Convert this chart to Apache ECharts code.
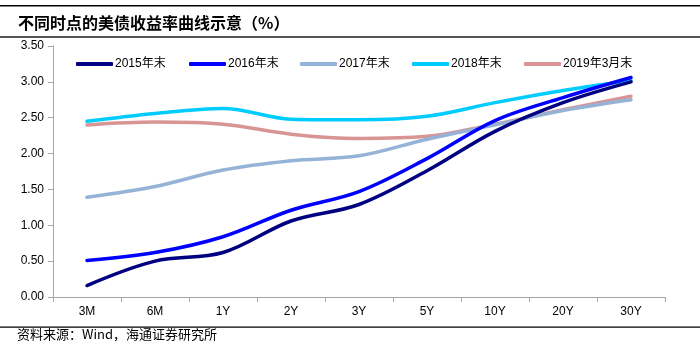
<!DOCTYPE html>
<html><head><meta charset="utf-8">
<script src="https://cdn.jsdelivr.net/npm/echarts@6/dist/echarts.min.js"></script>
<style>html,body{margin:0;padding:0;background:#fff}#c{width:700px;height:352px}</style>
</head><body><div id="c"></div>
<script>
const categories = ['3M','6M','1Y','2Y','3Y','5Y','10Y','20Y','30Y'];
const seriesNames = ['2015年末','2016年末','2017年末','2018年末','2019年3月末'];
const y2015 = [0.16, 0.50, 0.62, 1.06, 1.29, 1.76, 2.31, 2.71, 3.00];
const y2016 = [0.51, 0.62, 0.84, 1.21, 1.47, 1.93, 2.46, 2.78, 3.06];
const y2017 = [1.39, 1.54, 1.77, 1.90, 1.97, 2.20, 2.40, 2.60, 2.75];
const y2018 = [2.45, 2.56, 2.63, 2.48, 2.47, 2.52, 2.71, 2.88, 3.02];
const y2019 = [2.40, 2.44, 2.41, 2.27, 2.21, 2.24, 2.41, 2.61, 2.80];
const yTicks = [0, 0.5, 1, 1.5, 2, 2.5, 3, 3.5];
const colors = ['#000080','#0000FF','#95B3D7','#00CCFF','#D99594'];
const data = [y2015, y2016, y2017, y2018, y2019];
const legendLefts = [76, 189, 300, 412, 524];

const chart = echarts.init(document.getElementById('c'));
chart.setOption({
  animation: false,
  textStyle: {fontFamily: 'Liberation Sans, Arial, sans-serif'},
  graphic: [
    {type:'rect', shape:{x:0,y:5,width:700,height:1.5}, style:{fill:'#000'}},
    {type:'text', left:18, top:15, style:{text:'不同时点的美债收益率曲线示意（%）', font:'bold 16px "Noto Sans CJK SC"', fill:'#000'}},
    {type:'rect', shape:{x:0,y:36,width:700,height:2}, style:{fill:'#555'}},
    {type:'rect', shape:{x:0,y:326.5,width:700,height:1.2}, style:{fill:'#000'}},
    {type:'text', left:17, top:328, style:{text:'资料来源：Wind，海通证券研究所', font:'13px "Noto Sans CJK SC"', fill:'#000'}}
  ],
  legend: seriesNames.map((n,i)=>({
    left: legendLefts[i], top: 58, padding: 0,
    itemWidth: 37, itemHeight: 4,
    icon: 'roundRect',
    data: [n],
    textStyle: {fontSize: 12, color:'#000', padding:[0,0,0,-3], fontFamily:'Liberation Sans, "Noto Sans CJK SC", sans-serif'}
  })),
  grid: {left: 53, right: 35, top: 46, bottom: 55},
  xAxis: {
    type: 'category', data: categories, boundaryGap: true,
    axisLine: {lineStyle:{color:'#A6A6A6'}},
    axisTick: {show:true, lineStyle:{color:'#A6A6A6'}},
    axisLabel: {color:'#000', fontSize: 12, margin: 9}
  },
  yAxis: {
    type: 'value', min: 0, max: 3.5, interval: 0.5,
    axisLine: {show:true, lineStyle:{color:'#A6A6A6'}},
    axisTick: {show:true, inside:false, lineStyle:{color:'#A6A6A6'}},
    splitLine: {show:false},
    axisLabel: {color:'#000', fontSize: 12, margin: 9, formatter: v => v.toFixed(2)}
  },
  series: seriesNames.map((n,i)=>({
    name: n, type: 'line', smooth: 0.35, data: data[i], showSymbol: false, symbol:'none',
    lineStyle: {width: 3.5, color: colors[i], cap:'round'}, itemStyle: {color: colors[i]}, z: 10 - i
  }))
});
</script></body></html>
